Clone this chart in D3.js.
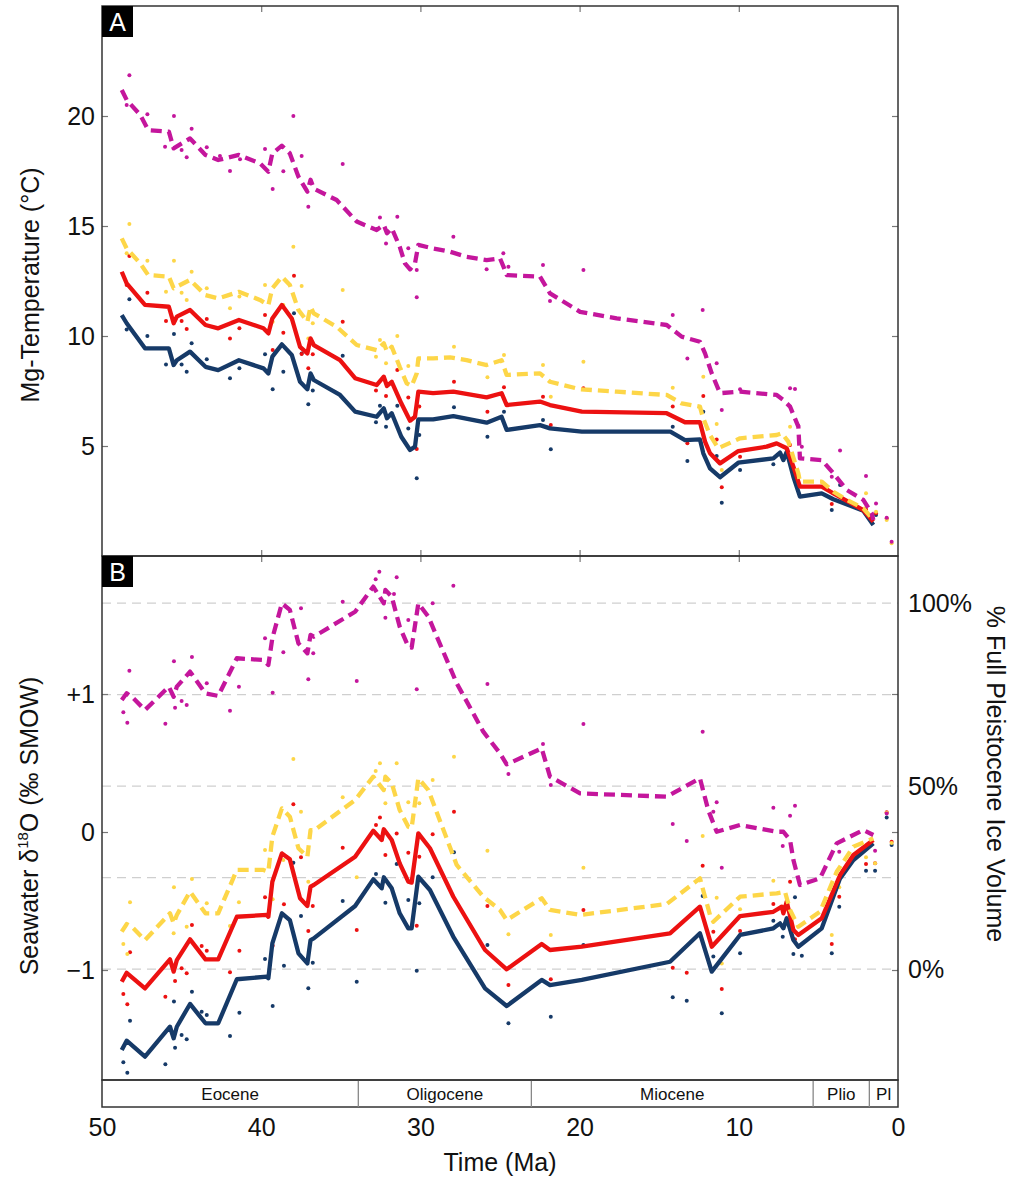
<!DOCTYPE html>
<html><head><meta charset="utf-8">
<script src="https://cdn.jsdelivr.net/npm/d3@7"></script>
<style>
body{margin:0;background:#fff;}
svg{display:block;font-family:"Liberation Sans",Arial,Helvetica,sans-serif;}
</style></head>
<body><svg id="chart" width="1010" height="1177"></svg>
<script>
// ---------- DATA ----------
// Panel A: Mg-temperature (°C) vs age (Ma)
const aMagLine = [[48.76,21.18],[48.45,20.73],[47.6,20.05],[47.1,19.36],[45.8,19.29],[45.5,18.53],[44.47,18.98],[43.5,18.23],[42.7,18.0],[41.4,18.23],[40.08,17.85],[39.55,17.47],[39.3,18.3],[38.7,18.65],[38.2,18.3],[37.66,17.24],[37.1,16.56],[36.9,17.1],[36.7,16.7],[35.26,16.18],[34.0,15.2],[32.75,14.82],[32.3,15.05],[32.1,14.67],[31.8,14.9],[31.3,14.06],[30.97,13.3],[30.65,13.03],[30.34,13.3],[30.13,14.14],[29.2,13.98],[28.14,13.83],[27.1,13.6],[25.84,13.45],[25.0,13.53],[24.75,13.1],[24.58,12.77],[22.49,12.7],[21.86,11.94],[19.97,11.1],[17.67,10.8],[14.53,10.5],[13.59,9.97],[12.44,9.74],[12.12,9.21],[11.7,8.3],[11.18,7.4],[9.92,7.47],[7.62,7.32],[7.2,7.09],[6.78,6.79],[6.26,5.88],[6.16,4.44],[4.79,4.36],[4.06,3.76],[3.22,3.0],[2.18,2.55],[1.65,1.94],[1.55,1.64]];
const aYelLine = [[48.76,14.44],[48.45,13.98],[47.6,13.3],[47.1,12.77],[45.8,12.7],[45.5,12.17],[44.47,12.55],[43.5,11.86],[42.7,11.71],[41.4,12.01],[40.08,11.64],[39.55,11.41],[39.3,12.17],[38.7,12.7],[38.2,12.32],[37.66,11.18],[37.1,10.65],[36.9,11.33],[36.7,11.03],[35.26,10.42],[34.0,9.59],[32.75,9.36],[32.3,9.67],[32.1,9.29],[31.8,9.51],[31.3,8.6],[30.86,7.85],[30.55,7.73],[30.23,8.3],[30.13,8.98],[29.2,8.98],[28.14,9.03],[27.1,8.9],[25.84,8.68],[24.9,8.9],[24.58,8.23],[22.49,8.3],[21.86,7.92],[19.97,7.58],[17.67,7.47],[14.53,7.32],[13.59,6.94],[12.44,6.79],[12.27,6.33],[11.81,5.5],[11.29,4.9],[9.92,5.35],[7.62,5.5],[7.3,5.58],[6.89,5.2],[6.26,3.76],[6.16,3.38],[4.79,3.38],[4.06,2.92],[3.22,2.55],[2.18,2.17],[1.55,1.64]];
const aRedLine = [[48.76,12.92],[48.45,12.39],[47.3,11.41],[45.8,11.33],[45.5,10.58],[45.3,10.88],[44.47,11.18],[43.5,10.5],[42.7,10.35],[41.4,10.73],[39.86,10.35],[39.55,10.12],[39.3,10.8],[38.7,11.41],[38.08,10.8],[37.56,9.51],[37.1,9.21],[36.9,9.89],[36.7,9.59],[35.05,8.9],[34.1,8.08],[32.75,7.77],[32.3,8.15],[32.1,7.73],[31.8,7.92],[31.2,6.94],[30.65,6.15],[30.34,6.33],[30.13,7.47],[29.2,7.4],[27.93,7.47],[25.84,7.21],[24.9,7.4],[24.58,6.86],[22.49,7.02],[21.86,6.86],[19.86,6.56],[14.53,6.49],[13.38,6.08],[12.44,6.08],[12.12,5.2],[11.81,4.67],[11.18,4.21],[10.03,4.77],[8.25,4.97],[7.62,5.12],[6.99,4.9],[6.57,4.06],[6.16,3.15],[4.79,3.15],[4.06,2.85],[2.18,2.09],[1.55,1.56]];
const aNavLine = [[48.76,10.95],[48.45,10.58],[47.3,9.44],[45.8,9.44],[45.5,8.68],[45.3,8.9],[44.47,9.29],[43.5,8.6],[42.7,8.45],[41.4,8.9],[39.86,8.53],[39.55,8.3],[39.3,9.06],[38.7,9.62],[38.08,9.14],[37.56,7.92],[37.1,7.58],[36.9,8.3],[36.7,8.0],[35.05,7.32],[34.1,6.56],[32.75,6.33],[32.3,6.71],[32.1,6.26],[31.8,6.49],[31.2,5.42],[30.65,4.82],[30.34,4.97],[30.13,6.21],[29.2,6.21],[27.93,6.36],[25.84,6.06],[24.9,6.33],[24.58,5.73],[22.49,5.95],[21.86,5.8],[19.86,5.65],[14.3,5.65],[13.38,5.27],[12.44,5.3],[12.23,4.67],[11.81,3.98],[11.18,3.58],[10.03,4.24],[7.83,4.44],[7.41,4.7],[7.2,4.36],[6.99,4.74],[6.57,3.6],[6.16,2.7],[4.79,2.85],[4.06,2.58],[2.18,2.06],[1.55,1.41]];

const aMagDots = [[48.28,21.85],[48.45,20.5],[47.15,20.08],[45.48,20.0],[46.04,18.6],[45.0,18.45],[44.68,18.12],[44.37,19.42],[43.42,18.58],[42.59,18.18],[41.96,17.5],[41.33,18.03],[39.76,18.5],[39.28,16.68],[38.61,17.49],[37.98,20.0],[37.46,18.18],[37.04,15.88],[34.88,17.82],[32.54,15.39],[31.45,15.42],[32.16,14.21],[30.76,13.99],[27.93,14.51],[24.79,13.76],[25.84,13.03],[30.23,11.76],[30.23,13.0],[24.47,13.15],[22.3,13.23],[19.76,13.0],[21.86,11.59],[14.15,10.95],[12.27,11.18],[13.23,8.98],[11.39,8.76],[11.07,6.64],[9.92,7.58],[6.78,7.62],[6.47,7.59],[6.26,5.92],[6.04,4.97],[3.64,4.79],[4.16,3.6],[2.01,3.64],[1.38,2.39],[0.71,1.74],[0.4,0.65]];
const aYelDots = [[48.28,15.09],[48.45,13.76],[47.15,13.42],[45.48,13.42],[44.37,12.92],[37.98,14.06],[45.98,12.01],[45.0,11.97],[44.68,11.64],[43.42,12.17],[41.96,11.26],[41.37,11.79],[39.76,12.32],[39.28,10.65],[38.61,11.41],[37.46,12.27],[37.04,9.89],[36.76,10.58],[34.88,12.09],[32.54,9.82],[32.79,9.06],[32.16,8.76],[31.45,10.0],[30.76,8.64],[30.23,6.71],[27.89,9.51],[25.79,8.12],[24.75,9.14],[22.3,8.68],[19.76,8.83],[21.81,7.24],[14.15,7.65],[12.23,8.15],[11.39,6.0],[11.07,3.91],[6.78,5.88],[2.01,2.85],[1.38,2.01],[0.71,1.64],[0.4,0.58]];
const aRedDots = [[48.45,12.32],[48.28,13.64],[47.15,11.97],[45.98,10.68],[45.0,10.68],[44.68,10.32],[43.42,10.77],[41.96,9.89],[41.37,10.35],[39.76,10.95],[39.28,9.36],[38.61,10.15],[37.94,12.74],[37.46,9.18],[37.04,8.53],[36.76,9.17],[34.88,10.65],[32.79,7.52],[32.16,7.27],[31.45,8.45],[30.76,7.2],[30.23,4.86],[30.07,6.79],[27.89,7.92],[25.79,6.56],[24.75,7.67],[22.3,7.24],[19.76,7.62],[21.81,5.95],[14.15,6.79],[13.23,5.12],[12.23,7.27],[11.39,5.3],[11.07,3.12],[9.92,4.51],[6.78,5.05],[4.16,2.36],[2.01,2.12],[1.38,1.94],[0.71,1.71]];
const aNavDots = [[48.45,10.3],[48.28,11.67],[47.15,10.0],[45.98,8.71],[45.48,10.09],[45.0,8.71],[44.68,8.38],[44.37,9.67],[43.42,8.94],[41.96,8.08],[41.37,8.53],[39.76,9.17],[39.28,7.58],[38.61,8.38],[37.94,11.03],[37.46,9.21],[37.04,6.9],[36.76,7.52],[34.88,9.1],[32.79,6.08],[32.54,6.83],[32.16,5.88],[31.45,6.83],[30.76,5.8],[30.23,3.53],[30.07,5.5],[27.89,6.76],[25.79,5.42],[24.75,6.56],[22.3,6.18],[21.81,4.85],[14.15,5.88],[13.23,4.32],[12.23,6.56],[11.39,4.55],[11.07,2.42],[9.92,3.91],[7.83,4.17],[4.16,2.09],[3.64,3.23],[1.38,1.86]];

// Panel B: seawater d18O (permil SMOW) vs age (Ma)
const bMagLine = [[48.76,0.957],[48.45,1.005],[48.03,0.969],[47.3,0.884],[45.8,1.053],[45.5,0.98],[45.3,1.053],[44.47,1.162],[43.5,1.005],[42.7,0.986],[41.53,1.259],[39.86,1.246],[39.55,1.21],[39.3,1.404],[38.7,1.657],[38.2,1.609],[37.66,1.367],[37.1,1.295],[36.9,1.428],[36.7,1.415],[34.1,1.596],[32.96,1.778],[32.3,1.657],[32.2,1.754],[31.8,1.705],[31.3,1.488],[30.76,1.343],[30.55,1.336],[30.13,1.657],[29.5,1.56],[27.72,1.078],[26.05,0.727],[25.0,0.57],[24.58,0.49],[22.38,0.606],[21.86,0.401],[19.97,0.28],[14.53,0.256],[12.44,0.389],[11.92,0.159],[11.39,0.002],[9.92,0.051],[7.62,0.002],[7.2,0.002],[6.78,-0.058],[6.57,-0.203],[6.16,-0.384],[4.9,-0.336],[3.85,-0.082],[2.18,0.014],[1.55,-0.022]];
const bYelLine = [[48.76,-0.722],[48.45,-0.667],[48.03,-0.698],[47.3,-0.783],[45.73,-0.589],[45.5,-0.662],[45.3,-0.601],[44.47,-0.432],[43.5,-0.589],[42.7,-0.589],[41.53,-0.275],[39.86,-0.275],[39.55,-0.287],[39.3,-0.034],[38.7,0.171],[38.2,0.111],[37.66,-0.118],[37.1,-0.179],[36.9,0.014],[36.7,0.01],[34.1,0.232],[32.96,0.401],[32.3,0.304],[32.2,0.401],[31.8,0.353],[31.3,0.159],[30.76,0.038],[30.55,0.03],[30.13,0.389],[29.5,0.304],[27.72,-0.239],[26.05,-0.469],[25.0,-0.565],[24.58,-0.638],[22.38,-0.48],[21.86,-0.565],[19.97,-0.601],[14.53,-0.522],[12.44,-0.336],[11.81,-0.601],[11.6,-0.65],[9.92,-0.469],[7.62,-0.444],[7.1,-0.432],[6.78,-0.565],[6.26,-0.686],[4.9,-0.578],[3.85,-0.288],[2.8,-0.106],[1.55,-0.046]];
const bRedLine = [[48.76,-1.085],[48.45,-1.02],[47.3,-1.133],[45.73,-0.923],[45.5,-1.012],[45.3,-0.928],[44.47,-0.778],[43.5,-0.923],[42.7,-0.923],[41.53,-0.614],[39.65,-0.601],[39.55,-0.614],[39.3,-0.36],[38.7,-0.155],[38.2,-0.198],[37.56,-0.48],[37.1,-0.536],[36.9,-0.396],[36.7,-0.384],[34.1,-0.179],[32.96,0.009],[32.43,-0.058],[32.3,0.02],[31.8,-0.058],[31.3,-0.227],[30.76,-0.36],[30.55,-0.367],[30.13,-0.01],[29.4,-0.118],[27.93,-0.469],[25.94,-0.855],[24.58,-0.995],[22.38,-0.812],[21.86,-0.855],[19.86,-0.831],[14.32,-0.734],[12.44,-0.541],[11.7,-0.831],[9.92,-0.609],[7.83,-0.578],[7.3,-0.541],[7.2,-0.589],[6.99,-0.505],[6.57,-0.71],[6.26,-0.746],[4.79,-0.625],[3.64,-0.312],[2.8,-0.167],[1.55,-0.058]];
const bNavLine = [[48.76,-1.58],[48.45,-1.512],[47.3,-1.628],[45.73,-1.411],[45.5,-1.495],[45.3,-1.411],[44.47,-1.246],[43.5,-1.386],[42.7,-1.386],[41.53,-1.067],[39.65,-1.048],[39.55,-1.06],[39.3,-0.807],[38.7,-0.589],[38.2,-0.638],[37.66,-0.879],[37.1,-0.952],[36.9,-0.783],[36.7,-0.771],[34.1,-0.536],[32.96,-0.343],[32.43,-0.408],[32.3,-0.328],[31.8,-0.408],[31.3,-0.589],[30.76,-0.698],[30.55,-0.698],[30.13,-0.324],[29.4,-0.42],[27.93,-0.759],[25.94,-1.133],[24.58,-1.261],[22.38,-1.072],[21.86,-1.109],[19.86,-1.072],[14.32,-0.94],[12.44,-0.734],[11.7,-1.012],[9.92,-0.746],[7.83,-0.698],[7.41,-0.662],[7.2,-0.698],[6.99,-0.625],[6.57,-0.783],[6.26,-0.831],[4.79,-0.698],[3.64,-0.336],[2.8,-0.203],[1.55,-0.082]];

const bMagDots = [[48.28,1.169],[48.66,0.867],[48.41,0.792],[46.02,0.785],[45.48,1.237],[45.41,0.901],[45.0,0.949],[44.68,0.92],[44.35,1.268],[43.42,1.078],[41.96,0.879],[41.4,1.053],[39.76,1.404],[39.28,1.009],[38.61,1.302],[37.5,1.621],[37.04,1.107],[36.73,1.295],[34.88,1.669],[34.0,1.094],[32.81,1.831],[32.58,1.886],[32.2,1.553],[31.66,1.725],[31.49,1.846],[30.76,1.536],[30.23,1.034],[29.23,1.657],[27.93,1.785],[25.79,1.072],[24.47,0.42],[22.3,0.638],[21.81,0.341],[19.76,0.783],[14.15,0.058],[12.27,0.727],[11.39,0.215],[11.6,0.147],[13.27,-0.065],[11.07,-0.259],[7.83,0.176],[7.24,-0.101],[6.78,0.118],[6.47,0.191],[3.69,-0.143],[1.44,-0.135],[0.71,0.135]];
const bYelDots = [[37.98,0.529],[32.54,0.498],[32.81,0.442],[31.49,0.498],[32.2,0.208],[30.76,0.215],[30.07,0.208],[29.23,0.377],[27.89,0.546],[34.88,0.251],[37.5,0.147],[48.24,-0.509],[48.66,-0.812],[48.41,-0.884],[45.48,-0.401],[45.5,-0.734],[44.68,-0.686],[44.35,-0.341],[43.42,-0.517],[41.96,-0.681],[41.4,-0.509],[39.76,-0.13],[39.28,-0.488],[38.61,-0.203],[37.04,-0.36],[34.0,-0.328],[25.79,-0.135],[24.47,-0.741],[19.76,-0.259],[21.81,-0.746],[12.27,-0.029],[11.39,-0.476],[11.07,-0.952],[9.92,-0.56],[7.83,-0.353],[4.16,-0.746],[3.69,-0.401],[2.01,-0.183],[1.44,-0.227],[0.71,0.14],[0.4,-0.08]];
const bRedDots = [[48.24,-0.872],[48.66,-1.174],[48.41,-1.249],[46.02,-1.193],[45.41,-1.08],[45.0,-0.988],[44.68,-1.024],[44.35,-0.674],[43.74,-0.826],[43.42,-0.86],[41.96,-1.017],[41.37,-0.86],[39.76,-0.473],[39.28,-0.824],[38.57,-0.524],[37.98,0.201],[37.5,-0.183],[37.04,-0.717],[36.76,-0.536],[34.88,-0.114],[34.0,-0.71],[32.79,0.051],[32.54,0.106],[32.2,-0.167],[31.49,-0.01],[30.76,-0.15],[30.23,-0.679],[30.07,-0.179],[29.23,-0.017],[27.89,0.147],[25.79,-0.536],[24.47,-1.109],[19.76,-0.565],[21.81,-1.067],[14.15,-0.983],[13.27,-1.019],[12.27,-0.244],[11.6,-0.722],[11.07,-1.138],[9.92,-0.717],[7.83,-0.522],[7.24,-0.553],[6.78,-0.36],[6.47,-0.778],[4.16,-0.812],[3.69,-0.469],[2.01,-0.232],[1.44,-0.227],[0.71,0.143],[0.4,-0.07]];
const bNavDots = [[48.24,-1.367],[48.66,-1.669],[48.41,-1.744],[46.02,-1.683],[45.48,-1.229],[45.41,-1.563],[45.0,-1.471],[44.68,-1.502],[44.35,-1.157],[43.74,-1.302],[43.42,-1.326],[41.96,-1.478],[41.37,-1.309],[39.76,-0.92],[39.28,-1.261],[38.57,-0.969],[37.98,-0.222],[37.5,-0.609],[37.04,-1.133],[36.76,-0.947],[34.88,-0.5],[34.0,-1.085],[32.79,-0.304],[32.2,-0.512],[31.49,-0.232],[30.76,-0.493],[30.23,-1.005],[30.07,-0.517],[29.23,-0.328],[27.89,-0.147],[25.79,-0.819],[24.47,-1.386],[19.76,-0.819],[21.81,-1.338],[14.15,-1.198],[13.27,-1.222],[12.27,-0.464],[11.6,-0.903],[11.07,-1.314],[9.92,-0.879],[7.83,-0.643],[7.24,-0.759],[6.47,-0.473],[6.57,-0.884],[6.04,-0.896],[4.16,-0.879],[3.69,-0.541],[2.01,-0.28],[1.44,-0.28],[0.71,0.106],[0.4,-0.094]];

// Axes / labels
const timeTicks = [50,40,30,20,10,0];
const tempTicks = [5,10,15,20];
const d18Ticks = [-1,0,1];
const iceTicks = [0,50,100];
const iceGrid = [0,25,50,75,100];
const epochNames = ["Eocene","Oligocene","Miocene","Plio","Pl"];
const epochStart = [50,33.9,23.03,5.33,1.8];
const epochEnd = [33.9,23.03,5.33,1.8,0];

// ---------- DRAW ----------
const svg = d3.select("#chart");
const L=102, R=898, TOP=6, MID=556, BOT=1080, EPB=1107;
const x = d3.scaleLinear().domain([50,0]).range([L,R]);
const yA = d3.scaleLinear().domain([0,25]).range([MID,TOP]);
const yB = d3.scaleLinear().domain([-1.797,2.0]).range([BOT,MID]);
const yIce = d3.scaleLinear().domain([0,100]).range([yB(-0.993), yB(1.659)]);

const col = {mag:"#c4169c", yel:"#fdd648", red:"#ec1111", nav:"#163a68"};
const FONT = 25;

// gridlines panel B
svg.append("g").selectAll("line").data(iceGrid).join("line")
  .attr("x1",L).attr("x2",R).attr("y1",d=>yIce(d)).attr("y2",d=>yIce(d))
  .attr("stroke","#cfcfcf").attr("stroke-width",1.3).attr("stroke-dasharray","9,6");

function dots(data, y, c){
  svg.append("g").selectAll("circle").data(data).join("circle")
    .attr("cx",d=>x(d[0])).attr("cy",d=>y(d[1])).attr("r",2).attr("fill",c);
}
function line(data, y, c, dashed){
  const p = svg.append("path").datum(data)
    .attr("d", d3.line().x(d=>x(d[0])).y(d=>y(d[1])))
    .attr("fill","none").attr("stroke",c).attr("stroke-width",4.3)
    .attr("stroke-linejoin","round");
  if(dashed) p.attr("stroke-dasharray","11,6");
}
// dots
dots(aNavDots,yA,col.nav); dots(aRedDots,yA,col.red); dots(aYelDots,yA,col.yel); dots(aMagDots,yA,col.mag);
dots(bNavDots,yB,col.nav); dots(bRedDots,yB,col.red); dots(bYelDots,yB,col.yel); dots(bMagDots,yB,col.mag);
// lines
line(aNavLine,yA,col.nav,false); line(aRedLine,yA,col.red,false); line(aYelLine,yA,col.yel,true); line(aMagLine,yA,col.mag,true);
line(bNavLine,yB,col.nav,false); line(bRedLine,yB,col.red,false); line(bYelLine,yB,col.yel,true); line(bMagLine,yB,col.mag,true);

// axes
function styleAxis(g){
  g.select(".domain").remove();
  g.selectAll(".tick line").attr("stroke","#777").attr("stroke-width",1.2);
  g.selectAll("text").attr("font-size",FONT).attr("fill","#111").attr("font-family",'"Liberation Sans",Arial,sans-serif');
}
// panel A left/right
svg.append("g").attr("transform",`translate(${L},0)`)
  .call(d3.axisLeft(yA).tickValues(tempTicks).tickSize(-6).tickPadding(7).tickFormat(d3.format("d"))).call(styleAxis);
svg.append("g").attr("transform",`translate(${R},0)`)
  .call(d3.axisRight(yA).tickValues(tempTicks).tickSize(-6).tickFormat("")).call(styleAxis);
// panel A top / bottom ticks
svg.append("g").attr("transform",`translate(0,${TOP})`)
  .call(d3.axisTop(x).tickValues([40,30,20,10]).tickSize(-6).tickFormat("")).call(styleAxis);
svg.append("g").attr("transform",`translate(0,${MID})`)
  .call(d3.axisBottom(x).tickValues([40,30,20,10]).tickSize(-6).tickFormat("")).call(styleAxis);
svg.append("g").attr("transform",`translate(0,${MID})`)
  .call(d3.axisTop(x).tickValues([40,30,20,10]).tickSize(-6).tickFormat("")).call(styleAxis);
// panel B left / right
const fmtD18 = d => d>0 ? "+"+d : (d<0 ? "\u2212"+Math.abs(d) : "0");
svg.append("g").attr("transform",`translate(${L},0)`)
  .call(d3.axisLeft(yB).tickValues(d18Ticks).tickSize(-6).tickPadding(7).tickFormat(fmtD18)).call(styleAxis);
svg.append("g").attr("transform",`translate(${R},0)`)
  .call(d3.axisRight(yB).tickValues(d18Ticks).tickSize(-6).tickFormat("")).call(styleAxis);
// ice volume labels on right
svg.append("g").selectAll("text").data(iceTicks).join("text")
  .attr("x",R+10).attr("y",d=>yIce(d)).attr("dy","0.36em")
  .attr("font-size",FONT).attr("fill","#111").text(d=>d+"%");
// bottom time axis labels
svg.append("g").attr("transform",`translate(0,${EPB})`)
  .call(d3.axisBottom(x).tickValues(timeTicks).tickSize(0).tickPadding(11).tickFormat(d3.format("d"))).call(styleAxis);

// epoch bar
const eg = svg.append("g");
eg.append("rect").attr("x",L).attr("y",BOT).attr("width",R-L).attr("height",EPB-BOT)
  .attr("fill","none").attr("stroke","#333").attr("stroke-width",1.5);
eg.selectAll("line").data(epochStart.slice(1)).join("line")
  .attr("x1",d=>x(d)).attr("x2",d=>x(d)).attr("y1",BOT).attr("y2",EPB)
  .attr("stroke","#888").attr("stroke-width",1.3);
eg.selectAll("text").data(epochNames).join("text")
  .attr("x",(d,i)=>(x(epochStart[i])+x(epochEnd[i]))/2).attr("y",BOT+20)
  .attr("text-anchor","middle").attr("font-size",17).attr("fill","#111").text(d=>d);

// frames
svg.append("rect").attr("x",L).attr("y",TOP).attr("width",R-L).attr("height",MID-TOP)
  .attr("fill","none").attr("stroke","#333").attr("stroke-width",1.5);
svg.append("rect").attr("x",L).attr("y",MID).attr("width",R-L).attr("height",BOT-MID)
  .attr("fill","none").attr("stroke","#333").attr("stroke-width",1.5);

// panel letters
[["A",TOP],["B",MID]].forEach(([t,y0])=>{
  svg.append("rect").attr("x",L).attr("y",y0).attr("width",31).attr("height",31).attr("fill","#000");
  svg.append("text").attr("x",L+15.5).attr("y",y0+25).attr("text-anchor","middle")
    .attr("font-size",25).attr("fill","#fff").text(t);
});

// axis titles
svg.append("text").attr("transform","translate(39,285) rotate(-90)").attr("text-anchor","middle")
  .attr("font-size",FONT).attr("fill","#111").text("Mg-Temperature (°C)");
const t2 = svg.append("text").attr("transform","translate(38,826) rotate(-90)").attr("text-anchor","middle")
  .attr("font-size",FONT).attr("fill","#111");
t2.append("tspan").text("Seawater δ");
t2.append("tspan").attr("font-size",15).attr("dy",-10).text("18");
t2.append("tspan").attr("dy",10).text("O (‰ SMOW)");
svg.append("text").attr("transform","translate(987,774) rotate(90)").attr("text-anchor","middle")
  .attr("font-size",FONT).attr("fill","#111").text("% Full Pleistocene Ice Volume");
svg.append("text").attr("x",(L+R)/2).attr("y",1171).attr("text-anchor","middle")
  .attr("font-size",FONT).attr("fill","#111").text("Time (Ma)");
</script>
</body></html>
